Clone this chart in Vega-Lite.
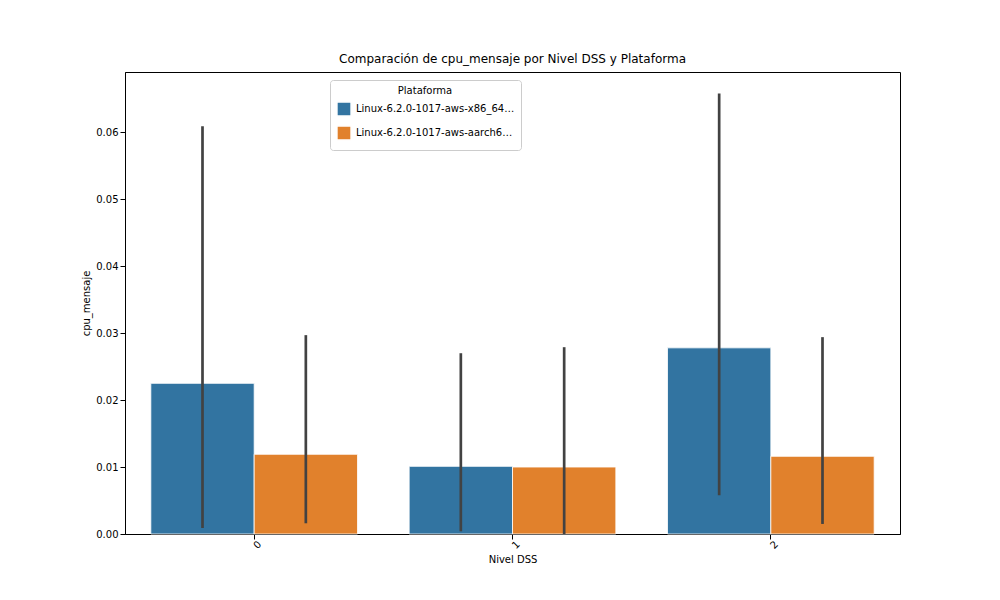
{
"$schema":"https://vega.github.io/schema/vega-lite/v6.json",
"width":775,"height":462,
"autosize":{"type":"none"},
"padding":{"left":125,"top":72,"right":100,"bottom":66},
"background":"white",
"config":{"font":"DejaVu Sans","view":{"stroke":"black","strokeWidth":1},
"axis":{"grid":false,"domainColor":"black","tickColor":"black","labelColor":"black","titleColor":"black","labelFontSize":10,"titleFontSize":10,"titleFontWeight":"normal"}},
"title":{"text":"Comparación de cpu_mensaje por Nivel DSS y Plataforma","fontSize":12,"fontWeight":"normal","offset":6},
"data":{"values":[
{"nivel":"0","plat":"Linux-6.2.0-1017-aws-x86_64-with-glibc2.35","v":0.0225,"lo":0.0009,"hi":0.0609},
{"nivel":"0","plat":"Linux-6.2.0-1017-aws-aarch64-with-glibc2.35","v":0.0119,"lo":0.0016,"hi":0.0297},
{"nivel":"1","plat":"Linux-6.2.0-1017-aws-x86_64-with-glibc2.35","v":0.0101,"lo":0.0004,"hi":0.0270},
{"nivel":"1","plat":"Linux-6.2.0-1017-aws-aarch64-with-glibc2.35","v":0.0100,"lo":0.0,"hi":0.0279},
{"nivel":"2","plat":"Linux-6.2.0-1017-aws-x86_64-with-glibc2.35","v":0.0278,"lo":0.0058,"hi":0.0658},
{"nivel":"2","plat":"Linux-6.2.0-1017-aws-aarch64-with-glibc2.35","v":0.0116,"lo":0.0015,"hi":0.0294}
]},
"encoding":{
"x":{"field":"nivel","type":"nominal","title":"Nivel DSS","scale":{"paddingInner":0.2,"paddingOuter":0.1},"axis":{"labelAngle":-45,"labelAlign":"center","labelBaseline":"top"}},
"xOffset":{"field":"plat","sort":["Linux-6.2.0-1017-aws-x86_64-with-glibc2.35","Linux-6.2.0-1017-aws-aarch64-with-glibc2.35"]}
},
"layer":[
{"mark":{"type":"bar","stroke":"white","strokeWidth":0.8},
"encoding":{"y":{"field":"v","type":"quantitative","title":"cpu_mensaje","scale":{"domain":[0,0.069],"nice":false},"axis":{"format":".2f","values":[0,0.01,0.02,0.03,0.04,0.05,0.06]}},
"color":{"field":"plat","type":"nominal","sort":["Linux-6.2.0-1017-aws-x86_64-with-glibc2.35","Linux-6.2.0-1017-aws-aarch64-with-glibc2.35"],"scale":{"range":["#3274a1","#e1812c"]},
"legend":{"title":"Plataforma","orient":"none","legendX":205,"legendY":8,"titleAnchor":"middle","titleFontWeight":"normal","titleFontSize":10,"labelFontSize":10,"symbolType":"square","symbolSize":200,"strokeColor":"#cccccc","fillColor":"white","padding":6,"cornerRadius":3}}}},
{"mark":{"type":"rule","color":"#424242","strokeWidth":2.7},
"encoding":{"y":{"field":"lo","type":"quantitative"},"y2":{"field":"hi"}}}
]
}
